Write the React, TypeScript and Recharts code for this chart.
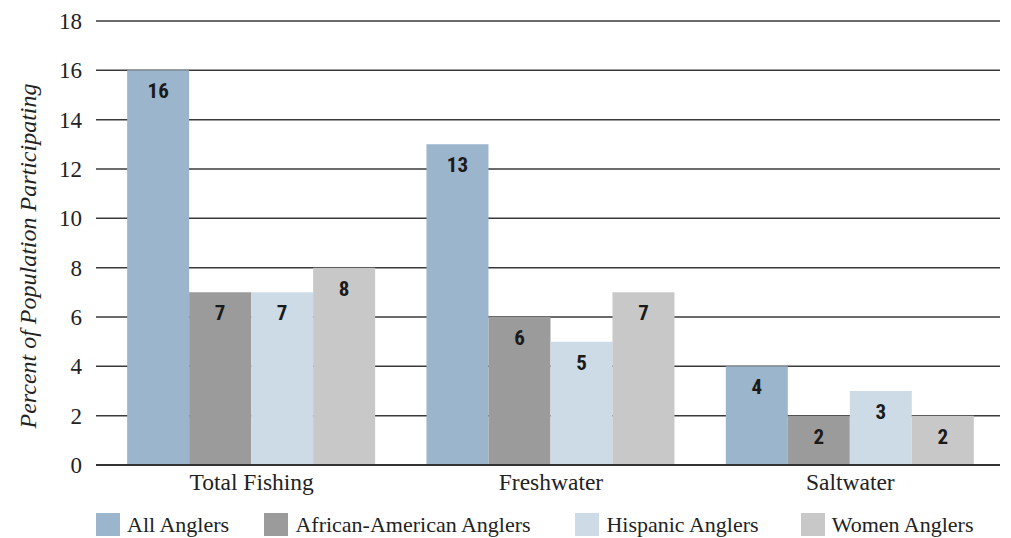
import React from 'react';
import { BarChart, Bar, XAxis, YAxis, CartesianGrid, Legend, LabelList } from 'recharts';

const categories = ['Total Fishing', 'Freshwater', 'Saltwater'];
const allAnglers = [16, 13, 4];
const africanAmerican = [7, 6, 2];
const hispanic = [7, 5, 3];
const women = [8, 7, 2];
const yTicks = [0, 2, 4, 6, 8, 10, 12, 14, 16, 18];

const series = [
  { key: 'all', name: 'All Anglers', color: '#9bb5cc' },
  { key: 'aa', name: 'African-American Anglers', color: '#9b9b9b' },
  { key: 'hisp', name: 'Hispanic Anglers', color: '#cddbe6' },
  { key: 'women', name: 'Women Anglers', color: '#c8c8c8' },
];

const data = categories.map((name, i) => ({
  name,
  all: allAnglers[i],
  aa: africanAmerican[i],
  hisp: hispanic[i],
  women: women[i],
}));

const serif = 'Liberation Serif';
const labelFont = 'Roboto Condensed';

// legend item widths, so the swatches land where the original puts them
const legendWidths = [169, 312, 226, 200];

const LegendBox = () => (
  <div style={{ height: 43, boxSizing: 'border-box', paddingTop: 16, paddingLeft: 96, display: 'flex', alignItems: 'center', fontFamily: serif, fontSize: 22, color: '#222' }}>
    {series.map((s, i) => (
      <div key={s.key} style={{ display: 'flex', alignItems: 'center', width: legendWidths[i], whiteSpace: 'nowrap' }}>
        <span style={{ width: 24, height: 23, background: s.color, display: 'inline-block', marginRight: 7, flexShrink: 0 }} />
        <span>{s.name}</span>
      </div>
    ))}
  </div>
);

const YLabel = (props: any) => {
  const vb = props.viewBox || {};
  const cx = 28;
  const cy = vb.y + vb.height / 2 + 13;
  return (
    <text x={cx} y={cy} transform={`rotate(-90, ${cx}, ${cy})`} textAnchor="middle" dominantBaseline="central"
      fontFamily={serif} fontStyle="italic" fontSize={24} fill="#222">
      Percent of Population Participating
    </text>
  );
};

export default function App() {
  return (
    <div style={{ position: 'absolute', left: 0, top: 0, background: '#fff' }}>
      <BarChart width={1011} height={538} data={data} margin={{ top: 21, right: 11, left: 0, bottom: 0 }}
        barCategoryGap="8.4%" barGap={0}>
        <CartesianGrid vertical={false} stroke="#3a3a3a" strokeWidth={1.5} />
        <XAxis dataKey="name" height={30} padding={{ left: 6, right: 0 }} tickLine={false}
          axisLine={{ stroke: '#333', strokeWidth: 2 }}
          tick={{ fontFamily: serif, fontSize: 23.5, fill: '#222' }} tickMargin={2} />
        <YAxis width={96} domain={[0, 18]} ticks={yTicks} tickLine={false} axisLine={false} interval={0}
          tick={{ fontFamily: serif, fontSize: 23, fill: '#222' }} tickMargin={8} label={<YLabel />} />
        <Legend verticalAlign="bottom" content={<LegendBox />} />
        {series.map((s) => (
          <Bar key={s.key} dataKey={s.key} name={s.name} fill={s.color} isAnimationActive={false}>
            <LabelList dataKey={s.key} position="insideTop" offset={13}
              fontFamily={labelFont} fontWeight={700} fontSize={21} fill="#1a1a1a" />
          </Bar>
        ))}
      </BarChart>
    </div>
  );
}
